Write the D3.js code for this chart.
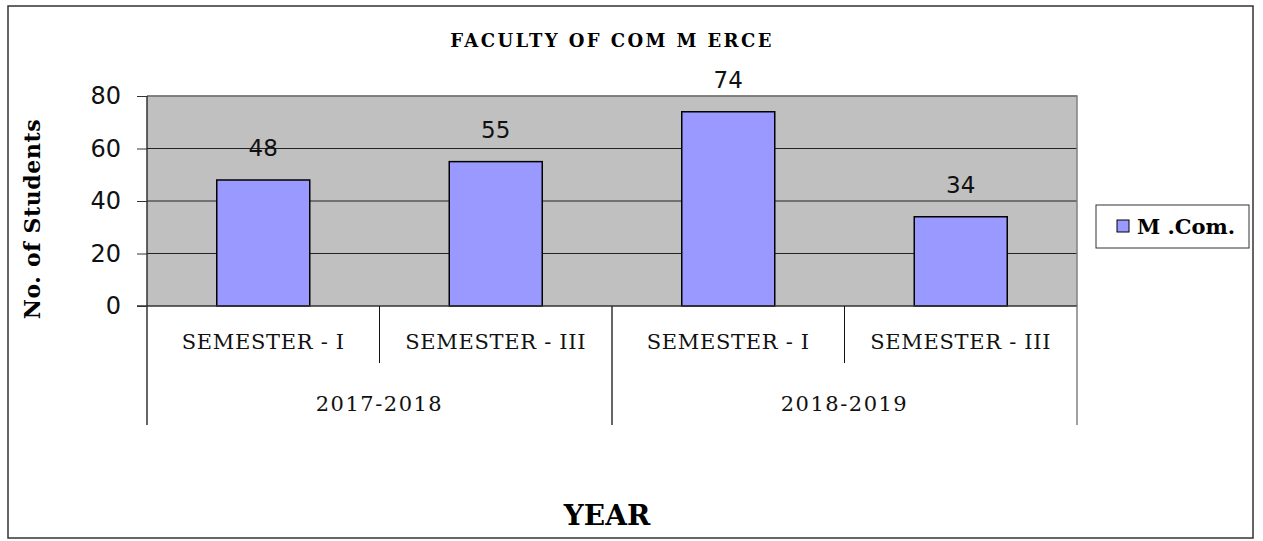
<!DOCTYPE html>
<html>
<head>
<meta charset="utf-8">
<script src="https://cdn.jsdelivr.net/npm/d3@7"></script>
<style>
  body { margin: 0; background: #fff; }
  svg { display: block; }
</style>
</head>
<body>
<script>
// chart data
var semesters = ['SEMESTER - I', 'SEMESTER - III', 'SEMESTER - I', 'SEMESTER - III'];
var years = ['2017-2018', '2018-2019'];
var students = [48, 55, 74, 34];
var yTicks = [0, 20, 40, 60, 80];
var seriesName = 'M .Com.';

var W = 1263, H = 541;
var plotL = 147, plotR = 1077, plotT = 96, plotB = 306;
var catBottom = 425, semBottom = 363;

var svg = d3.select('body').append('svg')
    .attr('width', W)
    .attr('height', H);

// outer frame
svg.append('rect')
    .attr('x', 8).attr('y', 6)
    .attr('width', 1245).attr('height', 532)
    .attr('fill', '#fff')
    .attr('stroke', '#333')
    .attr('stroke-width', 1.5);

//scales
var xscale = d3.scaleBand()
    .domain(d3.range(students.length))
    .range([plotL, plotR])
    .paddingInner(0.6)
    .paddingOuter(0.3);
var yscale = d3.scaleLinear()
    .domain([0, 80])
    .range([plotB, plotT]);
var step = xscale.step();
var edge = function (i) { return plotL + i * step; };

// plot background
svg.append('rect')
    .attr('x', plotL).attr('y', plotT)
    .attr('width', plotR - plotL).attr('height', plotB - plotT)
    .attr('fill', '#c0c0c0');

// gridlines
svg.selectAll('.grid')
    .data(yTicks.slice(1))
    .enter().append('line')
    .attr('x1', plotL).attr('x2', plotR)
    .attr('y1', function (d) { return yscale(d); })
    .attr('y2', function (d) { return yscale(d); })
    .attr('stroke', '#222')
    .attr('stroke-width', 1);

// plot border top / right
svg.append('path')
    .attr('d', 'M' + plotL + ',' + plotT + 'H' + plotR + 'V' + plotB)
    .attr('fill', 'none')
    .attr('stroke', '#808080')
    .attr('stroke-width', 1.5);

// bars
svg.selectAll('.bar')
    .data(students)
    .enter().append('rect')
    .attr('x', function (d, i) { return xscale(i); })
    .attr('y', function (d) { return yscale(d); })
    .attr('width', xscale.bandwidth())
    .attr('height', function (d) { return yscale(0) - yscale(d); })
    .attr('fill', '#9999ff')
    .attr('stroke', '#000')
    .attr('stroke-width', 1.5);

// value labels
svg.selectAll('.val')
    .data(students)
    .enter().append('text')
    .attr('x', function (d, i) { return xscale(i) + xscale.bandwidth() / 2; })
    .attr('y', function (d) { return yscale(d) - 24; })
    .attr('text-anchor', 'middle')
    .attr('font-family', 'DejaVu Sans')
    .attr('font-size', '23px')
    .attr('fill', '#111')
    .text(function (d) { return d; });

// y axis
var yaxis = d3.axisLeft(yscale)
    .tickValues(yTicks)
    .tickSize(10)
    .tickPadding(16);
var gy = svg.append('g')
    .attr('transform', 'translate(' + plotL + ',0)')
    .call(yaxis);
gy.select('.domain').remove();
gy.selectAll('.tick line').attr('stroke', '#333');
gy.selectAll('.tick text')
    .attr('font-family', 'DejaVu Sans')
    .attr('font-size', '24px')
    .attr('fill', '#111');

// axis lines: left side down through category area, baseline
svg.append('line')
    .attr('x1', plotL).attr('x2', plotL)
    .attr('y1', plotT).attr('y2', catBottom)
    .attr('stroke', '#333').attr('stroke-width', 1.5);
svg.append('line')
    .attr('x1', plotL - 10).attr('x2', plotR)
    .attr('y1', plotB).attr('y2', plotB)
    .attr('stroke', '#333').attr('stroke-width', 1.5);

// category dividers
svg.selectAll('.semdiv')
    .data([1, 3])
    .enter().append('line')
    .attr('x1', function (d) { return edge(d); })
    .attr('x2', function (d) { return edge(d); })
    .attr('y1', plotB).attr('y2', semBottom)
    .attr('stroke', '#111');
svg.selectAll('.yeardiv')
    .data([2, 4])
    .enter().append('line')
    .attr('x1', function (d) { return edge(d); })
    .attr('x2', function (d) { return edge(d); })
    .attr('y1', plotB).attr('y2', catBottom)
    .attr('stroke', function (d) { return d === 4 ? '#808080' : '#333'; })
    .attr('stroke-width', 1.5);

// semester labels
svg.selectAll('.sem')
    .data(semesters)
    .enter().append('text')
    .attr('x', function (d, i) { return xscale(i) + xscale.bandwidth() / 2; })
    .attr('y', 349)
    .attr('text-anchor', 'middle')
    .attr('font-family', 'DejaVu Serif')
    .attr('font-size', '21px')
    .attr('letter-spacing', '0.7px')
    .attr('fill', '#111')
    .text(function (d) { return d; });

// year labels
svg.selectAll('.yr')
    .data(years)
    .enter().append('text')
    .attr('x', function (d, i) { return edge(i * 2 + 1); })
    .attr('y', 411)
    .attr('text-anchor', 'middle')
    .attr('font-family', 'DejaVu Serif')
    .attr('font-size', '21px')
    .attr('letter-spacing', '1.5px')
    .attr('fill', '#111')
    .text(function (d) { return d; });

//title
svg.append('text')
    .attr('x', (plotL + plotR) / 2)
    .attr('y', 47)
    .attr('text-anchor', 'middle')
    .attr('font-family', 'DejaVu Serif')
    .attr('font-weight', 'bold')
    .attr('font-size', '18px')
    .attr('letter-spacing', '2.4px')
    .text('FACULTY OF COM M ERCE');

// x title
svg.append('text')
    .attr('x', 607)
    .attr('y', 525)
    .attr('text-anchor', 'middle')
    .attr('font-family', 'DejaVu Serif')
    .attr('font-weight', 'bold')
    .attr('font-size', '28px')
    .text('YEAR');

// y title
svg.append('text')
    .attr('transform', 'translate(40,219) rotate(-90)')
    .attr('text-anchor', 'middle')
    .attr('font-family', 'DejaVu Serif')
    .attr('font-weight', 'bold')
    .attr('font-size', '22px')
    .attr('letter-spacing', '0.6px')
    .text('No. of Students');

// legend
var legend = svg.append('g');
legend.append('rect')
    .attr('x', 1096).attr('y', 205)
    .attr('width', 153).attr('height', 43)
    .attr('fill', '#fff')
    .attr('stroke', '#333')
    .attr('stroke-width', 1);
legend.append('rect')
    .attr('x', 1117).attr('y', 220)
    .attr('width', 12).attr('height', 12)
    .attr('fill', '#9999ff')
    .attr('stroke', '#000');
legend.append('text')
    .attr('x', 1137)
    .attr('y', 234)
    .attr('font-family', 'DejaVu Serif')
    .attr('font-weight', 'bold')
    .attr('font-size', '21px')
    .text(seriesName);
</script>
</body>
</html>
